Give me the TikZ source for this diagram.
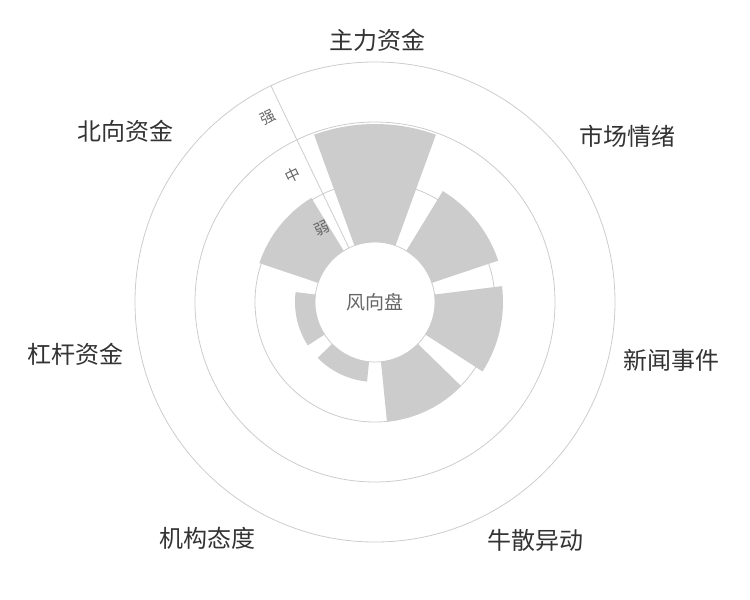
\documentclass[tikz,border=0pt]{standalone}
\usepackage{fontspec}
\setmainfont{Noto Sans CJK SC}
\begin{document}
\begin{tikzpicture}[
        x                       = 1pt,
        y                       = 1pt,
        ring/.style             = {draw=black!20, line width=0.8pt},
        bar/.style              = {fill=black!20, draw=none},
        dimlabel/.style         = {font=\fontsize{24}{24}\selectfont, text=black!80},
        levellabel/.style       = {font=\fontsize{15}{15}\selectfont, text=black!60, rotate=25.7},
      ]
        \useasboundingbox (-375,-298) rectangle (375,302);
        % bars: start angle, end angle, radius
        \foreach \a/\r [count=\i] in {90/178, 38.57/130, -12.86/128, -64.29/120, -115.71/80, -167.14/80, 141.43/122}{
            \fill[bar] (\a-20:60) arc[start angle=\a-20, end angle=\a+20, radius=60]
                -- (\a+20:\r) arc[start angle=\a+20, end angle=\a-20, radius=\r] -- cycle;
        }
        % rings
        \foreach \r in {60, 120, 180, 240}{
            \draw[ring] (0,0) circle[radius=\r];
        }
        \coordinate (hole) at (115.71:60);
        \coordinate (rim)  at (115.71:240);
        \draw[ring] (hole) -- (rim);
        \node[font=\fontsize{19}{19}\selectfont, text=black!60] (centre) at (0,0) {风向盘};
        \node[levellabel] (strong) at (-107,184) {强};
        \node[levellabel] (mid)    at (-82,127)  {中};
        \node[levellabel] (weak)   at (-53,74)   {弱};
        \node[dimlabel] (zhuli)  at (3,262)    {主力资金};
        \node[dimlabel] (qingxu) at (252,166)  {市场情绪};
        \node[dimlabel] (xinwen) at (296,-58)  {新闻事件};
        \node[dimlabel] (niusan) at (161,-238) {牛散异动};
        \node[dimlabel] (jigou)  at (-167,-236) {机构态度};
        \node[dimlabel] (ganggan) at (-299,-52) {杠杆资金};
        \node[dimlabel] (beixiang) at (-249,171) {北向资金};
\end{tikzpicture}
\end{document}
